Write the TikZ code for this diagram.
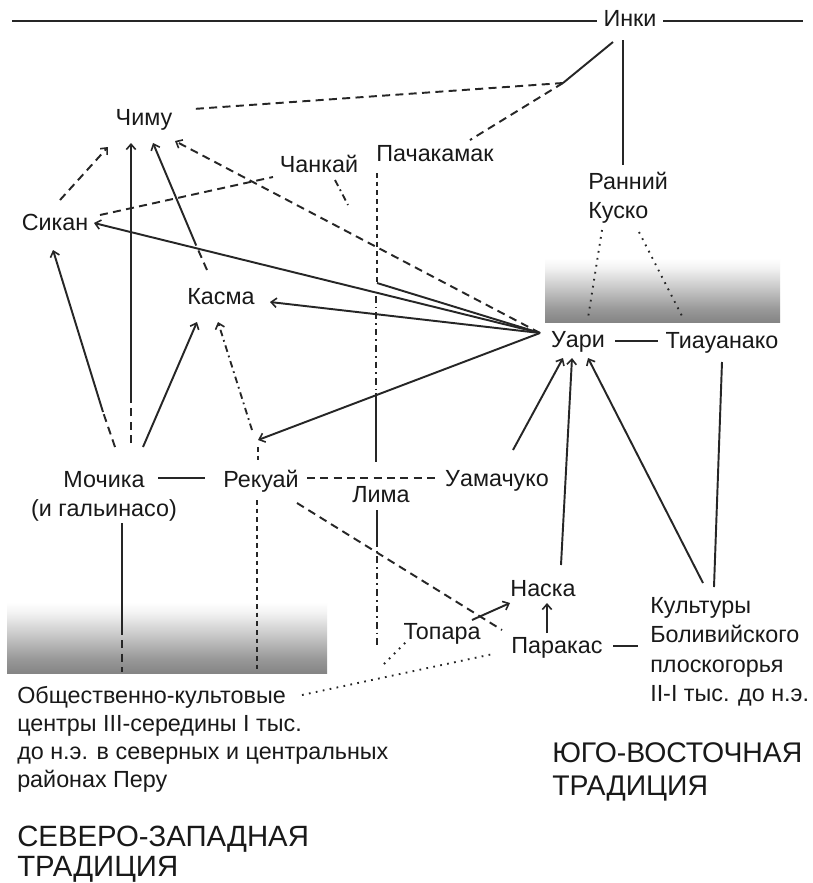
\documentclass[tikz,border=0pt]{standalone}
\usepackage{fontspec}
\setmainfont{Liberation Sans}
\usetikzlibrary{arrows.meta}
\pgfdeclareverticalshading{fadegray}{100bp}{color(0bp)=(black!48); color(25bp)=(black!48); color(33bp)=(black!40); color(47bp)=(black!20); color(58bp)=(black!5); color(64bp)=(white); color(100bp)=(white)}
\begin{document}
\begin{tikzpicture}[x=0.75pt,y=-0.75pt,
  lbl/.style={inner sep=0pt, anchor=base, font=\fontsize{17.5}{21.5}\selectfont, text=black!90},
  lblw/.style={inner sep=0pt, anchor=base west, align=left, font=\fontsize{17.5}{21.5}\selectfont, text=black!90},
  big/.style={inner sep=0pt, anchor=base west, align=left, font=\fontsize{21.5}{23.5}\selectfont, text=black!90},
  sol/.style={line width=1.45pt, black!85},
  dsh/.style={line width=1.45pt, black!85, dash pattern=on 6pt off 4pt},
  fdsh/.style={line width=1.3pt, black!85, dash pattern=on 3.5pt off 3pt},
  dot/.style={line width=1.4pt, black!85, dash pattern=on 1.3pt off 4pt},
  ddot/.style={line width=1.4pt, black!85, dash pattern=on 5pt off 3pt on 1.3pt off 3pt},
  arr/.style={-{Straight Barb[length=4pt,width=7pt,line width=1.2pt]}},
]
\useasboundingbox (0,0) rectangle (813,883);
\fill[white] (0,0) rectangle (813,883);

% gradient bands
\shade[shading=fadegray] (7,582) rectangle (327,673);
\shade[shading=fadegray] (545,240) rectangle (780,322);

% labels (base anchor of multi-line nodes = last line)
\node[lbl] (inki) at (630,26.5) {Инки};
\node[lbl] (chimu) at (144,125) {Чиму};
\node[lbl] (sikan) at (55,230) {Сикан};
\node[lbl] (chankai) at (319,172) {Чанкай};
\node[lbl] (pacha) at (435,161) {Пачакамак};
\node[lblw] (kusko) at (588,218) {Ранний\\Куско};
\node[lbl] (kasma) at (221,304) {Касма};
\node[lbl] (uari) at (578,347) {Уари};
\node[lbl] (tiau) at (722,348) {Тиауанако};
\node[lbl, align=center] (moch) at (104,516) {Мочика\\(и гальинасо)};
\node[lbl] (rekuai) at (261,487) {Рекуай};
\node[lbl] (lima) at (381,502) {Лима};
\node[lbl] (uamach) at (497,486) {Уамачуко};
\node[lbl] (naska) at (543,596) {Наска};
\node[lbl] (topara) at (442,639) {Топара};
\node[lbl] (paracas) at (557,653) {Паракас};
\node[lblw, font=\fontsize{17.5}{22.1}\selectfont] (cult) at (650,701.5) {Культуры\\Боливийского\\плоскогорья\\II-I тыс. до н.э.};
\node[lblw, font=\fontsize{17.5}{21}\selectfont] (obsch) at (17,787) {Общественно-культовые\\центры III-середины I тыс.\\до н.э. в северных и центральных\\районах Перу};
\node[big, font=\fontsize{22}{22.5}\selectfont] (sz) at (17,876) {СЕВЕРО-ЗАПАДНАЯ\\ТРАДИЦИЯ};
\node[big, font=\fontsize{21.3}{24.5}\selectfont] (yv) at (552,795) {ЮГО-ВОСТОЧНАЯ\\ТРАДИЦИЯ};

% connector end points
\coordinate (tl) at (12,21);
\coordinate (inkiL) at (597,21);
\coordinate (inkiR) at (663,21);
\coordinate (tr) at (803,21);
\coordinate (inkiS) at (623,40);
\coordinate (kuskoN) at (623,165);
\coordinate (inkiSW) at (613,42);
\coordinate (jn) at (563,83);
\coordinate (chimuE) at (193,109);
\coordinate (pachaNE) at (470,140);
\coordinate (sikanNE) at (60,200);
\coordinate (chimuSW) at (108,147);
\coordinate (mochN) at (131,443);
\coordinate (mochMid) at (131,397);
\coordinate (chimuS) at (131,143);
\coordinate (kasmaN) at (207,270);
\coordinate (kasmaMid) at (196,245);
\coordinate (chimuSE) at (153,143);
\coordinate (chimuSE2) at (175,141);
\coordinate (sikanE) at (100,215);
\coordinate (chankaiW) at (273,177);
\coordinate (chankaiS) at (335,180);
\coordinate (chankaiEnd) at (348,205);
\coordinate (pachaS) at (377,173);
\coordinate (corner) at (377,283);
\coordinate (limaN) at (376,462);
\coordinate (limaMid) at (376,393);
\coordinate (limaTop) at (376,296);
\coordinate (limaS) at (377,510);
\coordinate (limaMid2) at (377,540);
\coordinate (limaBot) at (377,648);
\coordinate (topL1) at (384,664);
\coordinate (topL2) at (407,641);
\coordinate (obE) at (302,695);
\coordinate (parW) at (493,654);
\coordinate (mochS) at (122,523);
\coordinate (mochMid2) at (122,627);
\coordinate (mochBot) at (122,672);
\coordinate (rekS) at (257,500);
\coordinate (rekBot) at (257,673);
\coordinate (rekT1) at (258,447);
\coordinate (rekT2) at (258,463);
\coordinate (rekNW) at (252,430);
\coordinate (kasmaS) at (218,322);
\coordinate (uariW) at (540,333);
\coordinate (rekArr) at (258,440);
\coordinate (kasmaE) at (270,302);
\coordinate (sikanE2) at (94,223);
\coordinate (mochNE) at (143,447);
\coordinate (kasmaSW) at (197,322);
\coordinate (mochNW) at (115,447);
\coordinate (mochNWmid) at (103,412);
\coordinate (sikanS) at (53,250);
\coordinate (mochE) at (158,478);
\coordinate (rekW) at (205,478);
\coordinate (rekE) at (307,478);
\coordinate (uamW) at (437,478);
\coordinate (rekSE) at (297,503);
\coordinate (parNW) at (502,630);
\coordinate (uamNE) at (513,450);
\coordinate (uariS1) at (563,358);
\coordinate (uariE) at (615,341);
\coordinate (tiauW) at (658,341);
\coordinate (tiauS) at (722,362);
\coordinate (cultN) at (714,587);
\coordinate (cultNW) at (703,583);
\coordinate (uariS3) at (588,358);
\coordinate (naskaN) at (561,565);
\coordinate (uariS2) at (572,358);
\coordinate (parN) at (547,633);
\coordinate (naskaS) at (547,603);
\coordinate (parE) at (613,646);
\coordinate (cultW) at (638,646);
\coordinate (topNE) at (472,620);
\coordinate (naskaW) at (510,603);
\coordinate (kuskoS1) at (602,230);
\coordinate (uariN) at (588,318);
\coordinate (kuskoS2) at (639,232);
\coordinate (tiauN) at (683,318);

% top line and Inca links
\draw[sol] (tl) -- (inkiL);
\draw[sol] (inkiR) -- (tr);
\draw[sol] (inkiS) -- (kuskoN);
\draw[sol] (inkiSW) -- (jn);
\draw[dsh] (jn) -- (chimuE);
\draw[dsh] (jn) -- (pachaNE);

% into Chimu
\draw[dsh, arr] (sikanNE) -- (chimuSW);
\draw[dsh] (mochN) -- (mochMid);
\draw[sol, arr] (mochMid) -- (chimuS);
\draw[dsh] (kasmaN) -- (kasmaMid);
\draw[sol, arr] (kasmaMid) -- (chimuSE);
\draw[dsh, arr] (uariW) -- (chimuSE2);

% Sican, Chancay
\draw[dsh] (sikanE) -- (chankaiW);
\draw[ddot] (chankaiS) -- (chankaiEnd);

% Pachacamac / Lima vertical
\draw[fdsh] (pachaS) -- (corner);
\draw[sol] (corner) -- (uariW);
\draw[ddot] (limaTop) -- (limaMid);
\draw[sol] (limaMid) -- (limaN);
\draw[sol] (limaS) -- (limaMid2);
\draw[ddot] (limaMid2) -- (limaBot);
\draw[dot] (topL1) -- (topL2);
\draw[dot] (obE) -- (parW);

% verticals from the early centres
\draw[sol] (mochS) -- (mochMid2);
\draw[dsh] (mochMid2) -- (mochBot);
\draw[fdsh] (rekS) -- (rekBot);
\draw[fdsh] (rekT1) -- (rekT2);

% Wari fan
\draw[ddot, arr] (rekNW) -- (kasmaS);
\draw[sol, arr] (uariW) -- (rekArr);
\draw[sol, arr] (uariW) -- (kasmaE);
\draw[sol, arr] (uariW) -- (sikanE2);

% Moche
\draw[sol, arr] (mochNE) -- (kasmaSW);
\draw[dsh] (mochNW) -- (mochNWmid);
\draw[sol, arr] (mochNWmid) -- (sikanS);
\draw[sol] (mochE) -- (rekW);
\draw[dsh] (rekE) -- (uamW);
\draw[dsh] (rekSE) -- (parNW);

% south-east
\draw[sol, arr] (uamNE) -- (uariS1);
\draw[sol] (uariE) -- (tiauW);
\draw[sol] (tiauS) -- (cultN);
\draw[sol, arr] (cultNW) -- (uariS3);
\draw[sol, arr] (naskaN) -- (uariS2);
\draw[sol, arr] (parN) -- (naskaS);
\draw[sol] (parE) -- (cultW);
\draw[sol, arr] (topNE) -- (naskaW);
\draw[dot] (kuskoS1) -- (uariN);
\draw[dot] (kuskoS2) -- (tiauN);
\end{tikzpicture}
\end{document}
